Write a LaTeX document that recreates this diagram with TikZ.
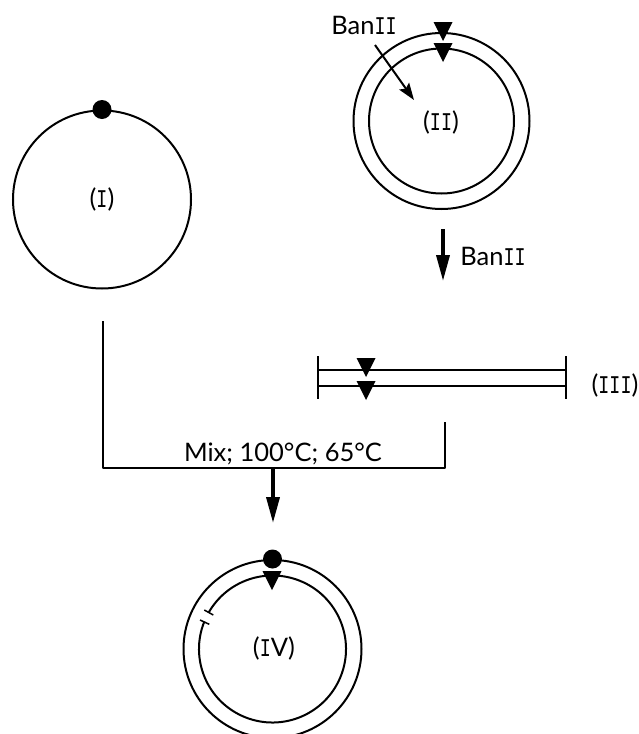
\documentclass[tikz,border=0pt]{standalone}
\usepackage{fontspec}
\setmainfont{Lato}
\newfontfamily\mI[FakeStretch=0.72]{Liberation Mono}
\usetikzlibrary{arrows.meta}
\newcommand{\labfont}{\fontsize{25.5}{27}\selectfont}
\tikzset{
 ring/.style={draw=black,line width=2pt,circle,inner sep=0pt,minimum size=#1},
 lab/.style={font=\labfont,inner sep=0pt,text=black},
 thin arrow/.style={line width=2pt,-{Stealth[length=17pt,width=12pt,inset=3pt]}},
 big arrow/.style={line width=3.6pt,-{Triangle[length=26pt,width=13pt]}},
 wire/.style={line width=2pt},
 dot/.style={fill=black,circle,inner sep=0pt,minimum size=19pt},
 tri/.pic={\fill[black] (-9.5,0) -- (9.5,0) -- (0,19) -- cycle;}
}
\begin{document}
\begin{tikzpicture}[x=1pt,y=-1pt]
\useasboundingbox[fill=white] (0,0) rectangle (639,734);
% (I)
\node[ring=178pt] (c1) at (102,199.5) {};
\node[dot] (d1) at (c1.north) {};
\node[lab] (l1) at (102,199) {({\mI I})};
% (II)
\node[ring=176pt] (c2o) at (441.5,121) {};
\node[ring=145pt] (c2i) at (441.5,121) {};
\pic at (443,22) {tri};
\pic at (443,43) {tri};
\node[lab] (l2) at (441,122) {({\mI II})};
\node[lab] (b1) at (364,25) {Ban{\mI II}};
\coordinate (a1s) at (375,45);
\coordinate (a1e) at (414,100);
\draw[thin arrow] (a1s) -- (a1e);
% BanII step
\coordinate (a2s) at (443,229);
\coordinate (a2e) at (443,281);
\draw[big arrow] (a2s) -- (a2e);
\node[lab] (b2) at (493,256) {Ban{\mI II}};
% (III)
\coordinate (t1a) at (318,356);
\coordinate (t1b) at (318,399);
\coordinate (t2a) at (566,356);
\coordinate (t2b) at (566,399);
\coordinate (u1) at (318,370);
\coordinate (u2) at (566,370);
\coordinate (v1) at (318,386);
\coordinate (v2) at (566,386);
\draw[wire] (t1a) -- (t1b);
\draw[wire] (t2a) -- (t2b);
\draw[wire] (u1) -- (u2);
\draw[wire] (v1) -- (v2);
\pic at (366,358) {tri};
\pic at (366,381) {tri};
\node[lab] (l3) at (615,385) {({\mI III})};
% Mix bracket
\coordinate (m1) at (103,321);
\coordinate (m2) at (103,468);
\coordinate (m3) at (445,468);
\coordinate (m4) at (445,422);
\draw[wire,line join=round] (m1) -- (m2) -- (m3) -- (m4);
\node[lab,anchor=base] (mix) at (283,461) {Mix; 100°C; 65°C};
\coordinate (a3s) at (273,468);
\coordinate (a3e) at (273,523);
\draw[big arrow] (a3s) -- (a3e);
% (IV)
\node[ring=178pt] (c4o) at (272.5,649) {};
\coordinate (c4) at (272.5,649);
\draw[line width=2pt] (c4) ++(158:73.5pt) arc[start angle=158,end angle=510,radius=73.5pt];
\node[dot] (d4) at (c4o.north) {};
\pic at (272,571) {tri};
\coordinate (n1a) at (204.3,610);
\coordinate (n1b) at (213.3,615);
\coordinate (n2a) at (200,620);
\coordinate (n2b) at (209.3,624.3);
\draw[line width=1.5pt] (n1a) -- (n1b);
\draw[line width=1.5pt] (n2a) -- (n2b);
\node[lab] (l4) at (274,648) {({\mI I}V)};
\end{tikzpicture}
\end{document}
